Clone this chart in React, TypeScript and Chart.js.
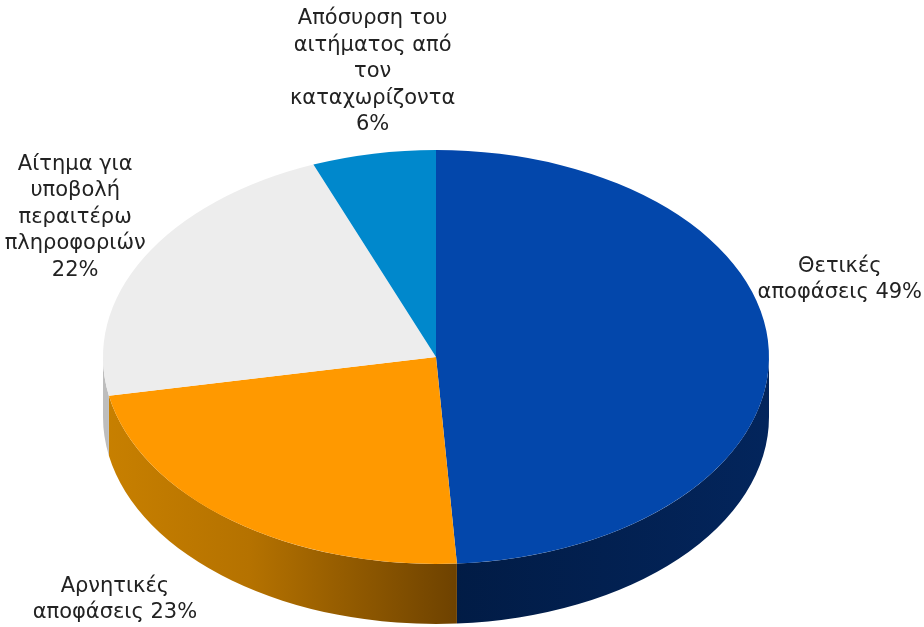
import React, { useEffect, useRef } from "react";
import { Chart, registerables } from "chart.js";

Chart.register(...registerables);

// ---- data ----
const categories = [
  "Θετικές αποφάσεις",
  "Αρνητικές αποφάσεις",
  "Αίτημα για υποβολή περαιτέρω πληροφοριών",
  "Απόσυρση του αιτήματος από τον καταχωρίζοντα",
];
const values = [49, 23, 22, 6];
// label text lines; {v} is replaced by the value with a % sign
const labelLines = [
  ["Θετικές", "αποφάσεις {v}"],
  ["Αρνητικές", "αποφάσεις {v}"],
  ["Αίτημα για", "υποβολή", "περαιτέρω", "πληροφοριών", "{v}"],
  ["Απόσυρση του", "αιτήματος από", "τον", "καταχωρίζοντα", "{v}"],
];

// ---- styles ----
const topColors = ["#0347AB", "#FF9900", "#EDEDED", "#0088CC"];
const sideStops: [number, string][][] = [
  [[0.5, "#011B44"], [1, "#03255C"]],
  [[0, "#C88000"], [0.22, "#B57200"], [0.53, "#6E4200"]],
  [[0, "#BDBDBD"], [1, "#BDBDBD"]],
  [[0, "#005F90"], [1, "#005F90"]],
];
// ellipse geometry of the 3D top face (canvas px)
const CX = 436;
const CY = 357;
const RX = 333;
const RY = 207;
const DEPTH = 60;
// label offsets from the rim mid-point of each slice
const labelOffsets: [number, number][] = [
  [71, -71],
  [-117, 79],
  [-69, -40],
  [-1, -82],
];
const FONT = "21px 'DejaVu Sans', Verdana, sans-serif";
const LINE_H = 26.6;

const pie3d = {
  id: "pie3d",
  beforeDatasetsDraw(chart: any) {
    const meta = chart.getDatasetMeta(0);
    const arcs = meta.data;
    if (!arcs.length) return;
    const { x, y, outerRadius: R } = arcs[0].getProps(["x", "y", "outerRadius"], true);
    const ctx: CanvasRenderingContext2D = chart.ctx;
    ctx.save();
    ctx.translate(CX, CY);
    ctx.scale(RX / R, RY / R);
    ctx.translate(-x, -y);
    const dl = (DEPTH * R) / RY;
    arcs.forEach((arc: any, i: number) => {
      const { startAngle, endAngle } = arc.getProps(["startAngle", "endAngle"], true);
      const a1 = Math.max(startAngle, 0);
      const a2 = Math.min(endAngle, Math.PI);
      if (a2 <= a1) return;
      ctx.beginPath();
      ctx.arc(x, y, R, a1, a2);
      ctx.arc(x, y + dl, R, a2, a1, true);
      ctx.closePath();
      const g = ctx.createLinearGradient(x - R, 0, x + R, 0);
      sideStops[i].forEach(([t, c]) => g.addColorStop(t, c));
      ctx.fillStyle = g;
      ctx.fill();
    });
  },
  afterDatasetsDraw(chart: any) {
    const ctx: CanvasRenderingContext2D = chart.ctx;
    ctx.restore();
    const arcs = chart.getDatasetMeta(0).data;
    ctx.save();
    ctx.font = FONT;
    ctx.fillStyle = "#222222";
    ctx.textAlign = "center";
    ctx.textBaseline = "middle";
    arcs.forEach((arc: any, i: number) => {
      const { startAngle, endAngle } = arc.getProps(["startAngle", "endAngle"], true);
      const mid = (startAngle + endAngle) / 2;
      const px = CX + RX * Math.cos(mid) + labelOffsets[i][0];
      const py = CY + RY * Math.sin(mid) + labelOffsets[i][1];
      const lines = labelLines[i].map((s) => s.replace("{v}", values[i] + "%"));
      const top = py - ((lines.length - 1) * LINE_H) / 2;
      lines.forEach((s, k) => ctx.fillText(s, px, top + k * LINE_H));
    });
    ctx.restore();
  },
};

export default function App() {
  const ref = useRef<HTMLCanvasElement>(null);
  useEffect(() => {
    if (!ref.current) return;
    const chart = new Chart(ref.current, {
      type: "pie",
      data: {
        labels: categories,
        datasets: [
          {
            data: values,
            backgroundColor: topColors,
            borderWidth: 0,
            hoverOffset: 0,
            offset: 0,
            clip: false,
          } as any,
        ],
      },
      options: {
        animation: false,
        responsive: false,
        events: [],
        layout: { padding: { left: 236, right: 288, top: 157, bottom: 70 } },
        plugins: { legend: { display: false }, tooltip: { enabled: false } },
      },
      plugins: [pie3d],
    });
    return () => chart.destroy();
  }, []);
  return (
    <div style={{ position: "fixed", left: 0, top: 0, width: 924, height: 627, background: "#fff" }}>
      <canvas ref={ref} width={924} height={627} />
    </div>
  );
}
